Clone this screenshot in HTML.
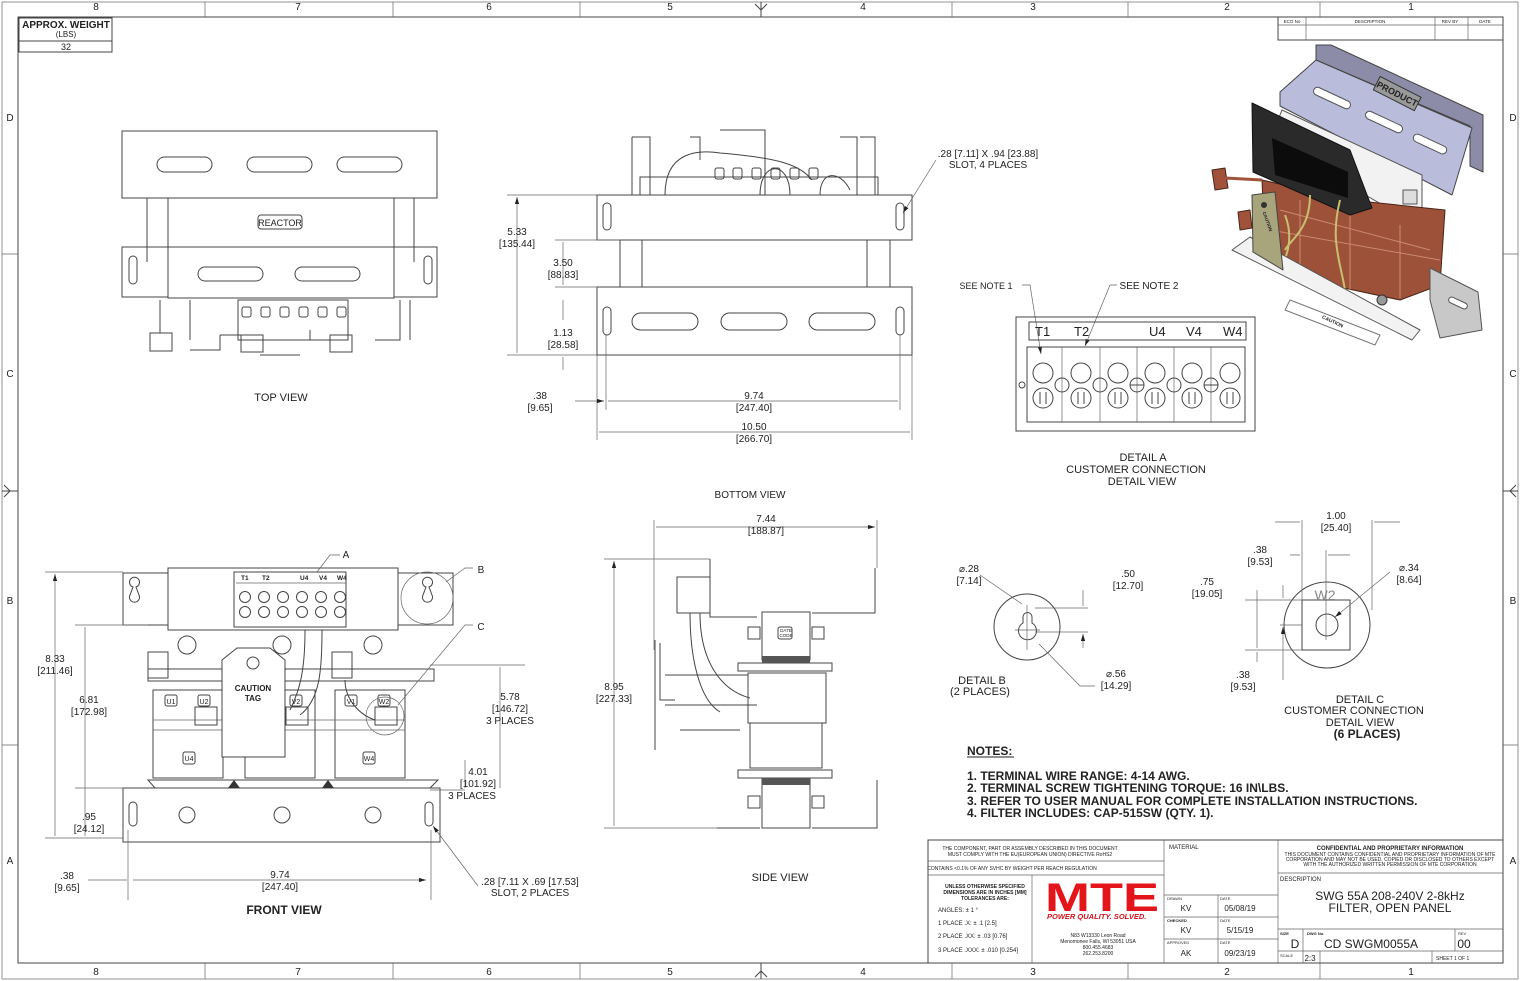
<!DOCTYPE html>
<html><head><meta charset="utf-8"><style>
html,body{margin:0;padding:0;background:#fff}
svg{display:block}
text{font-family:"Liberation Sans",Arial,sans-serif;fill:#222}
.s{fill:none;stroke:#444;stroke-width:1}
.t{fill:none;stroke:#666;stroke-width:0.7}
.w{fill:#fff;stroke:#444;stroke-width:1}
</style></head><body>
<svg width="1520" height="981" viewBox="0 0 1520 981" xmlns="http://www.w3.org/2000/svg">
<defs>
<marker id="a" viewBox="0 0 10 6" refX="10" refY="3" markerWidth="10" markerHeight="6" orient="auto-start-reverse"><path d="M0,0L10,3L0,6z" fill="#222"/></marker>
</defs>
<!-- frame -->
<rect x="18" y="17" width="1485" height="946" class="s"/>
<rect x="2" y="2" width="1516" height="977" class="t"/>
<g font-size="10" text-anchor="middle">
<text x="96" y="10">8</text><text x="298" y="10">7</text><text x="489" y="10">6</text><text x="670" y="10">5</text><text x="863" y="10">4</text><text x="1033" y="10">3</text><text x="1227" y="10">2</text><text x="1411" y="10">1</text>
<text x="96" y="975">8</text><text x="298" y="975">7</text><text x="489" y="975">6</text><text x="670" y="975">5</text><text x="863" y="975">4</text><text x="1033" y="975">3</text><text x="1227" y="975">2</text><text x="1411" y="975">1</text>
<text x="10" y="121">D</text><text x="10" y="377">C</text><text x="10" y="604">B</text><text x="10" y="864">A</text>
<text x="1513" y="121">D</text><text x="1513" y="377">C</text><text x="1513" y="604">B</text><text x="1513" y="864">A</text>
</g>
<g class="t">
<path d="M205,2V17M393,2V17M580,2V17M952,2V17M1128,2V17M1320,2V17M205,963V979M393,963V979M580,963V979M952,963V979M1128,963V979M1320,963V979"/>
<path d="M2,254H18M2,745H18M1503,254H1518M1503,745H1518"/>
</g>
<path d="M755,4L761,10L767,4M761,2V17M755,977L761,971L767,977M761,963V979M4,485L10,491L4,497M2,491H18M1516,485L1510,491L1516,497M1503,491H1518" class="s"/>
<!-- weight box -->
<rect x="19" y="18" width="93" height="34" class="s"/>
<path d="M19,41H112" class="s"/>
<text x="66" y="28" font-size="10" font-weight="bold" text-anchor="middle">APPROX. WEIGHT</text>
<text x="66" y="37" font-size="8" text-anchor="middle">(LBS)</text>
<text x="66" y="50" font-size="9" text-anchor="middle">32</text>
<!-- rev block -->
<rect x="1278" y="17" width="225" height="23" class="s"/>
<path d="M1278,25H1503M1306,17V40M1435,17V40M1468,17V40" class="t"/>
<g font-size="4.5" text-anchor="middle"><text x="1292" y="23">ECO No</text><text x="1370" y="23">DESCRIPTION</text><text x="1450" y="23">REV BY</text><text x="1485" y="23">DATE</text></g>

<!-- TOP VIEW -->
<g>
<rect x="122" y="131" width="315" height="67" class="s"/>
<rect x="157" y="157" width="55" height="15" rx="7.5" class="s"/><rect x="247" y="157" width="65" height="15" rx="7.5" class="s"/><rect x="337" y="157" width="65" height="15" rx="7.5" class="s"/>
<path d="M147,198V262M414,198V262" class="s"/>
<rect x="168" y="198" width="226" height="100" class="w"/>
<rect x="258" y="215" width="44" height="14" rx="3" class="s"/>
<text x="280" y="226" font-size="9" text-anchor="middle">REACTOR</text>
<rect x="122" y="247" width="46" height="50" class="s"/><rect x="394" y="247" width="43" height="50" class="s"/>
<path d="M168,247H394" class="s"/>
<rect x="129" y="256" width="8" height="28" rx="4" class="s"/><rect x="424" y="256" width="8" height="28" rx="4" class="s"/>
<rect x="198" y="267" width="65" height="14" rx="7" class="s"/><rect x="295" y="267" width="65" height="14" rx="7" class="s"/>
<rect x="238" y="300" width="110" height="40" class="s"/>
<g class="s"><rect x="242" y="307" width="9" height="10" rx="2"/><rect x="261" y="307" width="9" height="10" rx="2"/><rect x="280" y="307" width="9" height="10" rx="2"/><rect x="299" y="307" width="9" height="10" rx="2"/><rect x="318" y="307" width="9" height="10" rx="2"/><rect x="337" y="307" width="9" height="10" rx="2"/></g>
<rect x="150" y="333" width="22" height="18" class="s"/><rect x="241" y="335" width="22" height="17" class="s"/><rect x="330" y="335" width="22" height="17" class="s"/>
<path d="M160,300V333M190,300V340M220,335H242M295,340H310V330M375,340H400V300M410,300V340M260,355H300M190,350H220V335" class="s"/>
<text x="281" y="401" font-size="11" text-anchor="middle">TOP VIEW</text>
</g>

<!-- BOTTOM VIEW -->
<g>
<path d="M632,137H650V195M690,137H700V160M720,130H765V195M860,137H875V195M632,137V195M840,137H857V195" class="s"/>
<rect x="640" y="177" width="238" height="18" class="s"/>
<path d="M665,195C665,150 700,150 720,153C780,158 800,165 812,180M760,195C760,160 790,160 790,195M820,195C820,170 840,170 850,190" class="s"/>
<g class="s"><rect x="715" y="168" width="9" height="11" rx="2"/><rect x="733" y="168" width="9" height="11" rx="2"/><rect x="752" y="168" width="9" height="11" rx="2"/><rect x="771" y="168" width="9" height="11" rx="2"/><rect x="790" y="168" width="9" height="11" rx="2"/><rect x="809" y="168" width="9" height="11" rx="2"/></g>
<rect x="597" y="195" width="315" height="45" class="w"/>
<rect x="603" y="203" width="8" height="27" rx="4" class="s"/><rect x="896" y="203" width="8" height="27" rx="4" class="s"/>
<rect x="620" y="240" width="270" height="47" class="s"/>
<path d="M642,240V287M867,240V287" class="s"/>
<rect x="597" y="287" width="315" height="68" class="w"/>
<rect x="632" y="313" width="66" height="17" rx="8.5" class="s"/><rect x="721" y="313" width="66" height="17" rx="8.5" class="s"/><rect x="809" y="313" width="66" height="17" rx="8.5" class="s"/>
<rect x="603" y="307" width="8" height="28" rx="4" class="s"/><rect x="896" y="307" width="8" height="28" rx="4" class="s"/>
<path d="M507,195H597M507,355H597M555,240H620M555,287H597M555,355H597M606,335V410M900,335V410M597,355V440M912,355V440" class="t"/>
<path d="M517,197V353M563,242V285M563,320V300M563,370V357M608,401H898M599,432H910M575,401H604" class="t" marker-start="url(#a)" marker-end="url(#a)"/>
<g font-size="10" text-anchor="middle">
<text x="517" y="235">5.33</text><text x="517" y="247">[135.44]</text>
<text x="563" y="266">3.50</text><text x="563" y="278">[88.83]</text>
<text x="563" y="336">1.13</text><text x="563" y="348">[28.58]</text>
<text x="540" y="399">.38</text><text x="540" y="411">[9.65]</text>
<text x="754" y="399">9.74</text><text x="754" y="411">[247.40]</text>
<text x="754" y="430">10.50</text><text x="754" y="442">[266.70]</text>
<text x="750" y="498">BOTTOM VIEW</text>
<text x="988" y="157">.28 [7.11] X .94 [23.88]</text><text x="988" y="168">SLOT, 4 PLACES</text>
</g>
<path d="M936,160L903,213" class="t" marker-end="url(#a)"/>
</g>

<!-- DETAIL A -->
<g>
<text x="986" y="289" font-size="9" text-anchor="middle">SEE NOTE 1</text>
<text x="1149" y="289" font-size="10" text-anchor="middle">SEE NOTE 2</text>
<path d="M1022,285H1030L1041,354" class="t" marker-end="url(#a)"/>
<path d="M1117,285H1110L1085,346" class="t" marker-end="url(#a)"/>
<rect x="1016" y="317" width="239" height="114" class="s"/>
<rect x="1029" y="322" width="217" height="18" class="s"/>
<g font-size="13" fill="#333"><text x="1035" y="336">T1</text><text x="1074" y="336">T2</text><text x="1149" y="336">U4</text><text x="1186" y="336">V4</text><text x="1223" y="336">W4</text></g>
<rect x="1027" y="347" width="218" height="75" class="s"/>
<path d="M1062,347V422M1100,347V422M1137,347V422M1174,347V422M1211,347V422" class="t"/>
<g class="s">
<circle cx="1043" cy="373" r="10"/><circle cx="1081" cy="373" r="10"/><circle cx="1118" cy="373" r="10"/><circle cx="1155" cy="373" r="10"/><circle cx="1192" cy="373" r="10"/><circle cx="1230" cy="373" r="10"/>
<circle cx="1043" cy="398" r="10"/><circle cx="1081" cy="398" r="10"/><circle cx="1118" cy="398" r="10"/><circle cx="1155" cy="398" r="10"/><circle cx="1192" cy="398" r="10"/><circle cx="1230" cy="398" r="10"/>
<circle cx="1062" cy="385" r="7"/><circle cx="1100" cy="385" r="7"/><circle cx="1137" cy="385" r="7"/><circle cx="1174" cy="385" r="7"/><circle cx="1211" cy="385" r="7"/><circle cx="1022" cy="385" r="3"/>
<path d="M1040,392V404M1046,392V404M1078,392V404M1084,392V404M1115,392V404M1121,392V404M1152,392V404M1158,392V404M1189,392V404M1195,392V404M1227,392V404M1233,392V404M1130,385H1144M1204,385H1218"/>
</g>
<g font-size="11" text-anchor="middle"><text x="1143" y="461">DETAIL A</text><text x="1136" y="473">CUSTOMER CONNECTION</text><text x="1142" y="485">DETAIL VIEW</text></g>
</g>

<!-- 3D ISO -->
<g stroke-linejoin="round">
<polygon points="1316,45 1331,45 1483,115 1483,172 1470,166 1470,126 1316,60" fill="#8c8ca8" stroke="#444"/>
<polygon points="1280,92 1316,60 1472,128 1452,195 1280,106" fill="#b9bddb" stroke="#444"/>
<g fill="#fff" stroke="#555">
<rect x="1312" y="94" width="40" height="8" rx="4" transform="rotate(25 1332 98)"/>
<rect x="1364" y="118" width="40" height="8" rx="4" transform="rotate(25 1384 122)"/>
<rect x="1412" y="140" width="36" height="8" rx="4" transform="rotate(25 1430 144)"/>
</g>
<rect x="1374" y="86" width="46" height="15" transform="rotate(27 1397 94)" fill="#999" stroke="#333"/>
<text x="1397" y="97" font-size="9" font-weight="bold" text-anchor="middle" transform="rotate(27 1397 94)">PRODUCT</text>
<polygon points="1282,110 1422,175 1422,212 1400,215 1270,140" fill="#f2f2f2" stroke="#555"/>
<rect x="1403" y="190" width="14" height="14" fill="#ddd" stroke="#555"/>
<polygon points="1262,180 1350,200 1445,210 1440,285 1400,300 1330,285 1265,250" fill="#9d5138" stroke="#4a2416"/>
<path d="M1300,200V265M1350,215V290M1400,225V298M1270,230L1440,260M1280,210L1430,250" stroke="#c98a70" fill="none"/>
<polygon points="1252,103 1350,150 1372,208 1350,215 1253,172" fill="#2a2a2a" stroke="#111"/>
<polygon points="1272,138 1348,172 1348,198 1275,175" fill="#0c0c0c"/>
<path d="M1310,195C1310,230 1290,240 1285,250M1340,200C1330,240 1340,260 1345,290M1285,215C1295,240 1285,260 1280,270" stroke="#c8c070" stroke-width="2" fill="none"/>
<polygon points="1232,250 1250,237 1420,330 1412,340" fill="#f2f2f2" stroke="#555"/>
<polygon points="1290,300 1380,335 1375,345 1285,310" fill="#fff" stroke="#777"/>
<text x="1332" y="323" font-size="5" font-weight="bold" transform="rotate(25 1332 323)" text-anchor="middle">CAUTION</text>
<polygon points="1430,268 1478,292 1482,330 1440,338 1430,300" fill="#c8c8c8" stroke="#555"/>
<rect x="1448" y="300" width="20" height="6" rx="3" fill="#fff" stroke="#555" transform="rotate(25 1458 303)"/>
<polygon points="1252,195 1275,192 1283,270 1253,252" fill="#a8a47c" stroke="#444"/>
<circle cx="1264" cy="205" r="3" fill="#333"/>
<text x="1266" y="222" font-size="4.5" font-weight="bold" text-anchor="middle" transform="rotate(70 1266 222)">CAUTION</text>
<polygon points="1212,170 1225,168 1228,188 1215,190" fill="#a0533a" stroke="#4a2416"/>
<path d="M1225,178L1262,180" stroke="#a0533a" stroke-width="3"/>
<polygon points="1238,212 1250,210 1252,228 1240,230" fill="#a0533a" stroke="#4a2416"/>
<circle cx="1382" cy="300" r="5" fill="#999" stroke="#333"/>
</g>

<!-- FRONT VIEW -->
<g>
<rect x="123" y="573" width="330" height="52" class="s"/>
<rect x="168" y="568" width="230" height="62" class="w"/>
<rect x="234" y="572" width="112" height="55" class="s"/>
<g font-size="6.5" font-weight="bold"><text x="241" y="580">T1</text><text x="262" y="580">T2</text><text x="300" y="580">U4</text><text x="319" y="580">V4</text><text x="337" y="580">W4</text></g>
<path d="M236,583H346" class="t"/>
<g class="s">
<circle cx="245" cy="597" r="5.5"/><circle cx="264" cy="597" r="5.5"/><circle cx="283" cy="597" r="5.5"/><circle cx="302" cy="597" r="5.5"/><circle cx="321" cy="597" r="5.5"/><circle cx="340" cy="597" r="5.5"/>
<circle cx="245" cy="612" r="5.5"/><circle cx="264" cy="612" r="5.5"/><circle cx="283" cy="612" r="5.5"/><circle cx="302" cy="612" r="5.5"/><circle cx="321" cy="612" r="5.5"/><circle cx="340" cy="612" r="5.5"/>
<path d="M133,587a5,5 0 1,1 3,0l3,8a5,5 0 1,1 -9,0z"/>
<path d="M426,587a5,5 0 1,1 3,0l3,8a5,5 0 1,1 -9,0z"/>
<circle cx="427" cy="598" r="26" class="t"/>
<circle cx="187" cy="645" r="9"/><circle cx="282" cy="645" r="9"/><circle cx="373" cy="645" r="9"/>
<rect x="148" y="669" width="286" height="12"/>
<rect x="153" y="690" width="70" height="88"/><rect x="245" y="690" width="70" height="88"/><rect x="335" y="690" width="70" height="88"/>
<path d="M153,720H405M153,730H405" class="t"/>
<rect x="148" y="652" width="20" height="26"/><rect x="332" y="652" width="20" height="26"/>
<rect x="195" y="707" width="22" height="18"/><rect x="286" y="707" width="22" height="18"/><rect x="375" y="707" width="22" height="18"/>
<rect x="165" y="695" width="12" height="11" rx="2"/><rect x="198" y="695" width="12" height="11" rx="2"/><rect x="290" y="695" width="12" height="11" rx="2"/><rect x="345" y="695" width="12" height="11" rx="2"/><rect x="378" y="695" width="12" height="11" rx="2"/>
<rect x="183" y="752" width="12" height="12" rx="2"/><rect x="363" y="752" width="12" height="12" rx="2"/>
<path d="M222,757V660L237,648H270L285,660V757Z" fill="#fff"/>
<circle cx="253" cy="663" r="6"/>
<path d="M305,630C305,670 300,690 290,710M322,630C322,670 320,700 300,715M345,680C345,700 360,715 375,720" />
<path d="M148,780H438L430,788H155Z"/>
<rect x="123" y="788" width="317" height="54" fill="#fff"/>
<circle cx="187" cy="815" r="8"/><circle cx="282" cy="815" r="8"/><circle cx="373" cy="815" r="8"/>
<rect x="129" y="802" width="8" height="24" rx="4"/><rect x="425" y="802" width="8" height="24" rx="4"/>
</g>
<path d="M228,788L234,780L240,788ZM322,788L328,780L334,788Z" fill="#333"/>
<g font-size="8" font-weight="bold" text-anchor="middle"><text x="253" y="691">CAUTION</text><text x="253" y="701">TAG</text></g>
<g font-size="7" text-anchor="middle"><text x="171" y="704">U1</text><text x="204" y="704">U2</text><text x="296" y="704">V2</text><text x="351" y="704">V1</text><text x="384" y="704">W2</text><text x="189" y="761">U4</text><text x="369" y="761">W4</text></g>
<circle cx="385" cy="716" r="19" class="t"/>
<path d="M45,572H123M45,838H123M75,625H148M75,788H123M430,665H525M430,790H465M128,830V900M431,830V900" class="t"/>
<path d="M55,574V836M85,627V836M500,667V788M465,760V788M88,880H127M133,880H426" class="t" marker-start="url(#a)" marker-end="url(#a)"/>
<g font-size="10" text-anchor="middle">
<text x="55" y="662">8.33</text><text x="55" y="674">[211.46]</text>
<text x="89" y="703">6.81</text><text x="89" y="715">[172.98]</text>
<text x="510" y="700">5.78</text><text x="510" y="712">[146.72]</text><text x="510" y="724">3 PLACES</text>
<text x="478" y="775">4.01</text><text x="478" y="787">[101.92]</text><text x="472" y="799">3 PLACES</text>
<text x="89" y="820">.95</text><text x="89" y="832">[24.12]</text>
<text x="67" y="879">.38</text><text x="67" y="891">[9.65]</text>
<text x="280" y="878">9.74</text><text x="280" y="890">[247.40]</text>
<text x="530" y="885">.28 [7.11 X .69 [17.53]</text><text x="530" y="896">SLOT, 2 PLACES</text>
<text x="346" y="558">A</text><text x="481" y="573">B</text><text x="481" y="630">C</text>
</g>
<path d="M340,555H330L317,572M473,568H465L446,582M473,625H465L398,705" class="t"/>
<path d="M478,886L433,826" class="t" marker-end="url(#a)"/>
<text x="284" y="914" font-size="12" font-weight="bold" text-anchor="middle">FRONT VIEW</text>
</g>

<!-- SIDE VIEW -->
<g>
<g class="s">
<path d="M710,559V617H757M812,613H875V568"/>
<rect x="677" y="577" width="33" height="36"/>
<rect x="762" y="612" width="48" height="48" fill="#fff"/>
<rect x="778" y="627" width="14" height="12" rx="2"/>
<path d="M655,640V750M660,643V700H675"/>
<rect x="738" y="663" width="94" height="8"/>
<rect x="748" y="673" width="78" height="50" fill="#fff"/>
<rect x="750" y="723" width="72" height="45"/>
<rect x="738" y="770" width="94" height="8"/>
<rect x="762" y="778" width="48" height="50" fill="#fff"/>
<path d="M717,828H760M812,828H877V780"/>
<path d="M665,675H748M665,705H757M690,613C690,660 700,700 720,712M700,613C700,660 720,690 750,698M680,730H740"/>
<rect x="748" y="627" width="12" height="12"/><rect x="812" y="627" width="12" height="12"/><rect x="748" y="796" width="12" height="12"/><rect x="812" y="796" width="12" height="12"/>
</g>
<rect x="762" y="656" width="48" height="7" fill="#555"/><rect x="762" y="778" width="48" height="7" fill="#555"/>
<text x="786" y="632" font-size="4.5" text-anchor="middle">DATE</text><text x="786" y="637" font-size="4.5" text-anchor="middle">CODE</text>
<path d="M604,559H710M604,828H717M654,520V650M877,520V568" class="t"/>
<path d="M614,561V826M656,527H875" class="t" marker-start="url(#a)" marker-end="url(#a)"/>
<g font-size="10" text-anchor="middle"><text x="614" y="690">8.95</text><text x="614" y="702">[227.33]</text>
<text x="766" y="522">7.44</text><text x="766" y="534">[188.87]</text></g>
<text x="780" y="881" font-size="11" text-anchor="middle">SIDE VIEW</text>
</g>

<!-- DETAIL B -->
<g>
<circle cx="1027" cy="627" r="33" class="s"/>
<path d="M1023,617a4.5,4.5 0 0,1 9,0v6a9,9 0 1,1 -9,0z" class="s"/>
<path d="M1027,605V650M1015,630H1040M1035,608H1088M1035,632H1088" class="t"/>
<path d="M1083,590V606M1083,648V634" class="t" marker-end="url(#a)"/>
<path d="M980,575L1022,604M1095,686H1080L1039,644" class="t"/>
<g font-size="10" text-anchor="middle"><text x="969" y="572">⌀.28</text><text x="969" y="584">[7.14]</text>
<text x="1128" y="577">.50</text><text x="1128" y="589">[12.70]</text>
<text x="1116" y="677">⌀.56</text><text x="1116" y="689">[14.29]</text>
<text x="982" y="684" font-size="11">DETAIL B</text><text x="980" y="695" font-size="11">(2 PLACES)</text></g>
</g>

<!-- DETAIL C -->
<g>
<circle cx="1327" cy="625" r="43" class="s"/>
<rect x="1302" y="600" width="48" height="50" class="s"/>
<circle cx="1327" cy="625" r="11" class="s"/>
<text x="1325" y="600" font-size="14" text-anchor="middle" style="fill:#888">W2</text>
<path d="M1302,520V600M1372,520V610M1326,550V640M1245,600H1302M1245,650H1302M1280,625H1302" class="t"/>
<path d="M1275,522H1300M1400,522H1374M1290,555H1300M1350,555H1328M1257,590V648M1257,662V652M1283,585V598M1283,680V627" class="t" marker-end="url(#a)"/>
<path d="M1390,572L1335,617" class="t" marker-end="url(#a)"/>
<g font-size="10" text-anchor="middle"><text x="1336" y="519">1.00</text><text x="1336" y="531">[25.40]</text>
<text x="1260" y="553">.38</text><text x="1260" y="565">[9.53]</text>
<text x="1207" y="585">.75</text><text x="1207" y="597">[19.05]</text>
<text x="1409" y="571">⌀.34</text><text x="1409" y="583">[8.64]</text>
<text x="1243" y="678">.38</text><text x="1243" y="690">[9.53]</text></g>
<g font-size="11" text-anchor="middle"><text x="1360" y="703">DETAIL C</text><text x="1354" y="714">CUSTOMER CONNECTION</text><text x="1360" y="726">DETAIL VIEW</text><text x="1367" y="738" font-weight="bold" font-size="12">(6 PLACES)</text></g>
</g>

<!-- NOTES -->
<g font-size="12" font-weight="bold">
<text x="967" y="755">NOTES:</text>
<path d="M967,757H1014" stroke="#222" stroke-width="1"/>
<text x="967" y="780">1.  TERMINAL WIRE RANGE: 4-14 AWG.</text>
<text x="967" y="792">2.  TERMINAL SCREW TIGHTENING TORQUE: 16 IN\LBS.</text>
<text x="967" y="805">3.  REFER TO USER MANUAL FOR COMPLETE INSTALLATION INSTRUCTIONS.</text>
<text x="967" y="817">4.  FILTER INCLUDES: CAP-515SW (QTY. 1).</text>
</g>

<!-- TITLE BLOCK -->
<g>
<rect x="928" y="840" width="575" height="123" class="s"/>
<path d="M1164,840V963M1278,840V963M928,861H1164M928,875H1164M1032,875V963M1164,895H1278M1164,917H1278M1164,939H1278M1218,895V963M1278,873H1503M1278,929H1503M1278,951H1503M1303,929V963M1455,929V951M1320,951V963M1432,951V963" class="t"/>
<g font-size="5" text-anchor="middle"><text x="1030" y="850">THE COMPONENT, PART OR ASSEMBLY DESCRIBED IN THIS DOCUMENT</text><text x="1030" y="856">MUST COMPLY WITH THE EU(EUROPEAN UNION) DIRECTIVE RoHS2</text><text x="1012" y="870">CONTAINS &lt;0.1% OF ANY SVHC BY WEIGHT PER REACH REGULATION</text>
<text x="985" y="888" font-weight="bold">UNLESS OTHERWISE SPECIFIED</text><text x="985" y="894" font-weight="bold">DIMENSIONS ARE IN INCHES [MM]</text><text x="985" y="900" font-weight="bold">TOLERANCES ARE:</text>
<text x="1098" y="937">N83 W13330 Leon Road</text><text x="1098" y="943">Menomonee Falls, WI 53051 USA</text><text x="1098" y="949">800.455.4683</text><text x="1098" y="955">262.253.8200</text>
<text x="1390" y="850" font-weight="bold" font-size="6">CONFIDENTIAL AND PROPRIETARY INFORMATION</text><text x="1390" y="856">THIS DOCUMENT CONTAINS CONFIDENTIAL AND PROPRIETARY INFORMATION OF MTE</text><text x="1390" y="861">CORPORATION AND MAY NOT BE USED, COPIED OR DISCLOSED TO OTHERS EXCEPT</text><text x="1390" y="866">WITH THE AUTHORIZED WRITTEN PERMISSION OF MTE CORPORATION</text>
</g>
<g font-size="6"><text x="938" y="912">ANGLES: ± 1 °</text><text x="938" y="925">1 PLACE .X: ± .1 [2.5]</text><text x="938" y="938">2 PLACE .XX: ± .03 [0.76]</text><text x="938" y="952">3 PLACE .XXX: ± .010 [0.254]</text>
<text x="1169" y="849">MATERIAL</text><text x="1280" y="881">DESCRIPTION</text>
<text x="1167" y="900" font-size="4">DRAWN</text><text x="1220" y="900" font-size="4">DATE</text><text x="1167" y="922" font-size="4" font-weight="bold">CHECKED</text><text x="1220" y="922" font-size="4">DATE</text><text x="1167" y="944" font-size="4">APPROVED</text><text x="1220" y="944" font-size="4">DATE</text>
<text x="1280" y="935" font-size="4" font-weight="bold">SIZE</text><text x="1307" y="935" font-size="4" font-weight="bold">DWG No.</text><text x="1458" y="935" font-size="4">REV</text><text x="1280" y="957" font-size="4">SCALE</text><text x="1436" y="960" font-size="5">SHEET 1  OF 1</text></g>
<text x="1045" y="911" font-size="40" font-weight="bold" textLength="114" lengthAdjust="spacingAndGlyphs" style="fill:#e4141b">MTE</text>
<text x="1047" y="919" font-size="7.5" font-weight="bold" font-style="italic" style="fill:#d0141b">POWER QUALITY. SOLVED.</text>
<g font-size="8" text-anchor="middle"><text x="1186" y="911">KV</text><text x="1240" y="911">05/08/19</text><text x="1186" y="933">KV</text><text x="1240" y="933">5/15/19</text><text x="1186" y="956">AK</text><text x="1240" y="956">09/23/19</text><text x="1310" y="961">2:3</text></g>
<g font-size="12" text-anchor="middle"><text x="1390" y="900">SWG 55A 208-240V 2-8kHz</text><text x="1390" y="912">FILTER, OPEN PANEL</text><text x="1295" y="948">D</text><text x="1371" y="948">CD SWGM0055A</text><text x="1464" y="948">00</text></g>
</g>
</svg>
</body></html>
